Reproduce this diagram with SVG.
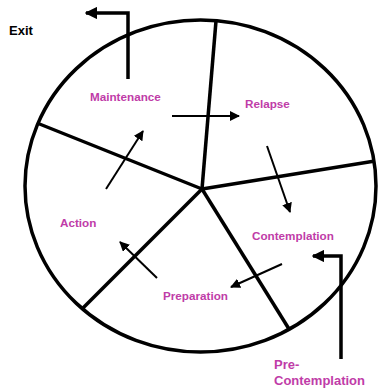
<svg xmlns="http://www.w3.org/2000/svg" width="378" height="390" viewBox="0 0 378 390">
<style>
.ring{fill:none;stroke:#000;stroke-width:3.5}
.spoke{stroke:#000;stroke-width:3.5;fill:none}
.arr{stroke:#000;stroke-width:2;fill:none;marker-end:url(#ah)}
.big{stroke:#000;stroke-width:3.5;fill:none;marker-end:url(#ahb)}
.lbl{font-family:"Liberation Sans",Arial,sans-serif;font-weight:bold;font-size:11.7px;fill:#C03CA8}
.lbl2{font-family:"Liberation Sans",Arial,sans-serif;font-weight:bold;font-size:13px;fill:#C03CA8}
.exit{font-family:"Liberation Sans",Arial,sans-serif;font-weight:bold;font-size:13px;fill:#000}
</style>
<defs>
<marker id="ah" viewBox="0 0 10 10" refX="9" refY="5" markerWidth="5" markerHeight="5" orient="auto" markerUnits="strokeWidth">
<path d="M0,0 L10,5 L0,10 z" fill="#000"/>
</marker>
<marker id="ahb" viewBox="0 0 10 10" refX="9" refY="5" markerWidth="3.6" markerHeight="3.6" orient="auto" markerUnits="strokeWidth">
<path d="M0,0 L10,5 L0,10 z" fill="#000"/>
</marker>
</defs>
<g id="wheel">
<ellipse class="ring" cx="200.5" cy="186" rx="175.5" ry="166"/>
</g>
<g id="connectors">
<line class="spoke" x1="202" y1="189" x2="216" y2="21"/>
<line class="spoke" x1="202" y1="189" x2="37" y2="123"/>
<line class="spoke" x1="202" y1="189" x2="375" y2="161"/>
<line class="spoke" x1="202" y1="189" x2="289" y2="329"/>
<line class="spoke" x1="202" y1="189" x2="83" y2="308"/>
<path class="big" d="M128,79 V13 H86"/>
<path class="big" d="M341,359 V256 H313"/>
<line class="arr" x1="172" y1="116" x2="239" y2="116"/>
<line class="arr" x1="267" y1="146" x2="290" y2="212"/>
<line class="arr" x1="282" y1="264" x2="231" y2="287"/>
<line class="arr" x1="157" y1="278" x2="120" y2="242"/>
<line class="arr" x1="106" y1="189" x2="143" y2="131"/>
</g>
<g id="exit"><text class="exit" x="9" y="35">Exit</text></g>
<g id="maintenance"><text class="lbl" x="90" y="101">Maintenance</text></g>
<g id="relapse"><text class="lbl" x="245" y="108">Relapse</text></g>
<g id="contemplation"><text class="lbl" x="252" y="240">Contemplation</text></g>
<g id="preparation"><text class="lbl" x="163" y="300">Preparation</text></g>
<g id="action"><text class="lbl" x="60" y="227">Action</text></g>
<g id="precontemplation"><text class="lbl2" x="274" y="369">Pre-</text><text class="lbl2" x="274" y="385">Contemplation</text></g>
</svg>
